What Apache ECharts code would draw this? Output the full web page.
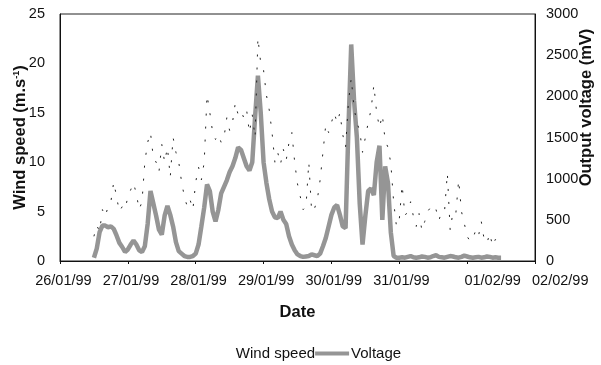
<!DOCTYPE html>
<html>
<head>
<meta charset="utf-8">
<script src="https://cdn.jsdelivr.net/npm/echarts@6/dist/echarts.min.js"></script>
<style>html,body{margin:0;padding:0;background:#fff}#c{width:601px;height:365px}</style>
</head>
<body>
<div id="c"></div>
<script>
// x axis: days since 26/01/99 00:00
const dateLabels = ['26/01/99','27/01/99','28/01/99','29/01/99','30/01/99','31/01/99','01/02/99','02/02/99'];
// where each date label sits along the day scale (the source chart nudges the last two labels right)
const dateLabelAt = [0.05, 1.05, 2.05, 3.05, 4.05, 5.05, 6.4, 7.4];
const firstSampleDay = 0.5;     // 26/01/99 12:00
const sampleStepDays = 1 / 24;  // hourly samples

// Wind speed (m/s), hourly
const windSpeed = [
  2.5,3.6,3.0,5.2,4.5,5.5,6.0,8.0,6.5,5.0,5.5,5.2,
  6.5,7.2,7.9,6.8,5.2,6.0,10.0,12.0,13.0,10.5,10.0,9.0,
  11.8,10.0,11.5,8.5,12.5,11.0,10.0,8.0,6.5,5.5,6.2,5.2,
  8.0,9.5,8.2,10.0,16.8,15.0,13.0,12.3,12.8,12.0,12.5,14.5,
  13.2,14.0,16.0,14.8,15.2,14.5,15.3,13.0,14.8,12.5,22.6,20.0,
  19.3,16.8,15.3,13.0,10.0,11.0,9.8,11.3,10.2,12.0,13.0,10.0,
  7.8,6.5,5.2,5.5,10.0,5.0,5.3,6.2,8.2,11.0,13.8,13.0,
  14.0,15.0,14.0,15.0,12.8,11.5,16.0,18.5,15.5,14.0,13.2,11.0,
  12.5,14.0,15.3,17.8,15.0,13.5,14.8,12.2,11.5,9.9,6.0,3.5,
  4.2,7.7,4.6,5.0,6.0,4.5,3.5,4.8,3.1,4.0,5.0,5.4,
  4.9,5.2,4.1,5.0,5.0,8.9,3.1,5.0,4.8,8.2,5.0,3.8,
  2.5,2.0,2.2,3.1,2.5,4.0,2.2,1.8,2.8,1.5,2.2,1.8,
  1.5
];

// Output voltage (mV), hourly
const voltage = [
  40,150,350,430,430,410,420,390,310,220,170,110,
  140,200,250,200,130,110,180,450,850,700,550,380,
  320,550,670,560,420,230,120,90,60,50,50,60,
  90,200,420,650,930,850,600,480,620,820,900,980,
  1080,1150,1250,1380,1350,1250,1150,1100,1200,1750,2250,1800,
  1200,950,750,600,530,520,600,500,450,300,200,130,
  80,60,50,55,60,80,70,60,90,180,280,420,
  560,650,680,560,420,400,1600,2630,1950,1500,700,200,
  550,850,880,800,1200,1400,500,1150,950,350,60,40,
  40,45,40,50,60,45,40,45,55,50,40,45,
  60,70,50,45,40,50,60,55,45,40,50,65,
  55,45,40,45,50,40,45,55,50,40,45,40,
  40
];

const windTicks = [0,5,10,15,20,25];
const voltTicks = [0,500,1000,1500,2000,2500,3000];

const pts = arr => arr.map((v, i) => [firstSampleDay + i * sampleStepDays, v]);

const FONT = 'Liberation Sans, Arial, sans-serif';
const TICK_FS = 14.5, TITLE_FS = 16.5;
const chart = echarts.init(document.getElementById('c'), null, {renderer: 'canvas'});
chart.setOption({
  animation: false,
  backgroundColor: '#fff',
  textStyle: {fontFamily: FONT},
  grid: [
    {left: 60, right: 66, top: 14, bottom: 104, show: true, borderColor: '#222', borderWidth: 1,
     containLabel: false, outerBoundsMode: 'none'},
    // label-only band: same day width as the plot, extended to 8 days
    {left: 60, right: 0.2, top: 14, bottom: 104, show: false, containLabel: false, outerBoundsMode: 'none'}
  ],
  legend: {
    top: 341, left: 'center', itemGap: 0, itemWidth: 34, itemHeight: 4,
    textStyle: {fontFamily: FONT, fontSize: 15, color: '#111', padding: [0, 0, 0, -3]},
    data: [
      {name: 'Wind speed', icon: 'rect', itemStyle: {opacity: 0}},
      {name: 'Voltage', icon: 'rect', itemStyle: {color: '#959595'}}
    ]
  },
  xAxis: [
    {
      gridIndex: 0, type: 'value', min: 0, max: dateLabels.length - 1, interval: 1,
      name: 'Date', nameLocation: 'middle', nameGap: 43, nameMoveOverlap: false,
      nameTextStyle: {fontFamily: FONT, fontSize: TITLE_FS, fontWeight: 'bold', color: '#111'},
      axisLine: {lineStyle: {color: '#111'}},
      axisTick: {show: true, length: 3, lineStyle: {color: '#111'}},
      splitLine: {show: false},
      axisLabel: {show: false}
    },
    {
      gridIndex: 1, type: 'value', min: 0, max: dateLabels.length,
      axisLine: {show: false}, axisTick: {show: false}, splitLine: {show: false},
      axisLabel: {
        fontFamily: FONT, fontSize: TICK_FS, color: '#111', margin: 12,
        customValues: dateLabelAt,
        formatter: v => { const i = dateLabelAt.indexOf(v); return i >= 0 ? dateLabels[i] : ''; }
      }
    }
  ],
  yAxis: [
    {
      gridIndex: 0, type: 'value', min: windTicks[0], max: windTicks[windTicks.length - 1], interval: 5,
      name: 'Wind speed (m.s{sup|-1})', nameLocation: 'middle', nameGap: 31, nameRotate: 90,
      nameMoveOverlap: false,
      nameTextStyle: {fontFamily: FONT, fontSize: TITLE_FS, fontWeight: 'bold', color: '#111',
        rich: {sup: {fontFamily: FONT, fontSize: 9, fontWeight: 'bold', color: '#111', padding: [0, 0, 8, 0]}}},
      axisLine: {show: true, lineStyle: {color: '#111'}},
      axisTick: {show: false},
      splitLine: {show: false},
      axisLabel: {fontFamily: FONT, fontSize: TICK_FS, color: '#111', margin: 15}
    },
    {
      gridIndex: 0, type: 'value', min: voltTicks[0], max: voltTicks[voltTicks.length - 1], interval: 500,
      position: 'right',
      name: 'Output voltage (mV)', nameLocation: 'middle', nameGap: 43, nameRotate: 90,
      nameMoveOverlap: false,
      nameTextStyle: {fontFamily: FONT, fontSize: TITLE_FS, fontWeight: 'bold', color: '#111', padding: [0, 0, 0, 60]},
      axisLine: {show: true, lineStyle: {color: '#111'}},
      axisTick: {show: false},
      splitLine: {show: false},
      axisLabel: {fontFamily: FONT, fontSize: TICK_FS, color: '#111', margin: 11, formatter: v => String(v)}
    },
    {
      gridIndex: 1, type: 'value', min: 0, max: 1, show: false
    }
  ],
  series: [
    {
      name: 'Voltage', type: 'line', xAxisIndex: 0, yAxisIndex: 1, data: pts(voltage),
      showSymbol: false, z: 2,
      lineStyle: {color: '#959595', width: 4.5}, itemStyle: {color: '#959595'}
    },
    {
      name: 'Wind speed', type: 'line', xAxisIndex: 0, yAxisIndex: 0, data: pts(windSpeed),
      showSymbol: false, z: 3,
      lineStyle: {color: '#222', width: 1, type: [2, 11]}, itemStyle: {color: '#222'}
    }
  ]
});
</script>
</body>
</html>
